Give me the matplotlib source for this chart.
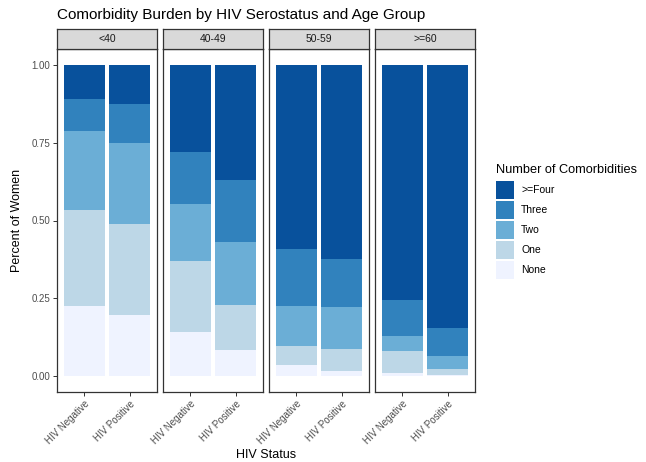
import numpy as np
import matplotlib
matplotlib.use('Agg')
import matplotlib.pyplot as plt
from matplotlib.patches import Rectangle

plt.rcParams['font.family'] = ['Liberation Sans', 'DejaVu Sans']

# Data: share of women in each comorbidity class (bottom to top of stack)
age_groups = ['<40', '40-49', '50-59', '>=60']
statuses = ['HIV Negative', 'HIV Positive']
levels = ['None', 'One', 'Two', 'Three', '>=Four']
colors = ['#eff3ff', '#bdd7e7', '#6baed6', '#3182bd', '#08519c']

# rows: age group, cols: status
share_none = [[0.227, 0.196], [0.142, 0.084], [0.036, 0.016], [0.011, 0.005]]
share_one = [[0.306, 0.292], [0.228, 0.145], [0.061, 0.073], [0.069, 0.020]]
share_two = [[0.253, 0.259], [0.183, 0.203], [0.130, 0.133], [0.049, 0.039]]
share_three = [[0.105, 0.127], [0.166, 0.198], [0.183, 0.154], [0.116, 0.091]]
share_four = [[0.109, 0.126], [0.281, 0.370], [0.590, 0.624], [0.755, 0.845]]

shares = np.array([share_none, share_one, share_two, share_three, share_four])

W, H = 646, 462
fig = plt.figure(figsize=(W / 100, H / 100), dpi=100)


def px(l, t, r, b):
    return [l / W, 1 - b / H, (r - l) / W, (b - t) / H]


edge = '#333333'
panel_left = [57, 163, 269, 375]
panel_w = 100

for i, grp in enumerate(age_groups):
    l = panel_left[i]
    ax = fig.add_axes(px(l, 49, l + panel_w, 392))
    x = np.arange(1, len(statuses) + 1)
    bottom = np.zeros(len(statuses))
    for k, lev in enumerate(levels):
        vals = shares[k, i]
        ax.bar(x, vals, width=0.9, bottom=bottom, color=colors[k], linewidth=0)
        bottom = bottom + vals
    ax.set_xlim(0.4, 2.6)
    ax.set_ylim(-0.05, 1.05)
    ax.set_xticks(x)
    ax.set_xticklabels(statuses, rotation=45, ha='right', rotation_mode='anchor',
                       fontsize=7, color='#4d4d4d')
    for s in ax.spines.values():
        s.set_color(edge)
        s.set_linewidth(0.9)
    ax.tick_params(axis='both', length=3, width=0.7, color=edge, pad=2)
    if i == 0:
        ax.set_yticks([0, 0.25, 0.5, 0.75, 1.0])
        ax.set_yticklabels(['0.00', '0.25', '0.50', '0.75', '1.00'], fontsize=7, color='#4d4d4d')
        ax.set_ylabel('Percent of Women', fontsize=9, labelpad=6)
    else:
        ax.set_yticks([])

    # facet strip
    sax = fig.add_axes(px(l, 29, l + panel_w, 49))
    sax.set_facecolor('#d9d9d9')
    sax.set_xticks([])
    sax.set_yticks([])
    for s in sax.spines.values():
        s.set_color(edge)
        s.set_linewidth(0.9)
    sax.text(0.5, 0.5, grp, ha='center', va='center', fontsize=7.5, color='#1a1a1a',
             transform=sax.transAxes)

fig.text(57 / W, 1 - 15 / H, 'Comorbidity Burden by HIV Serostatus and Age Group',
         ha='left', va='center', fontsize=11)
fig.text(266 / W, 1 - 455 / H, 'HIV Status', ha='center', va='center', fontsize=9)

# legend
fig.text(496 / W, 1 - 170 / H, 'Number of Comorbidities', ha='left', va='center', fontsize=9.2)
key_top = [181, 201, 221, 241, 261]
for j, lev in enumerate(reversed(levels)):
    c = colors[len(levels) - 1 - j]
    t = key_top[j]
    fig.patches.append(Rectangle((496 / W, 1 - (t + 18) / H), 18 / W, 18 / H,
                                 transform=fig.transFigure, facecolor=c,
                                 edgecolor='none', figure=fig))
    fig.text(521 / W, 1 - (t + 9) / H, lev, ha='left', va='center', fontsize=7.5)

fig.savefig('out.png', dpi=100)
